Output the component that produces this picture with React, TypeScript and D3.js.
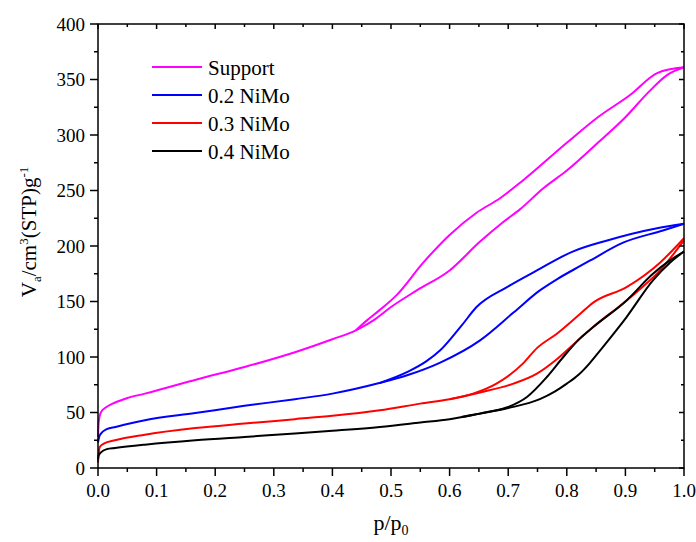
import React from "react";
import * as d3 from "d3";

type Pt = [number, number];

// adsorption / desorption branches, [p/p0, volume]
const supportAds: Pt[] = [
  [0, 28], [0.001, 40], [0.003, 47], [0.006, 51], [0.012, 54], [0.025, 58],
  [0.05, 63], [0.08, 67], [0.17, 80], [0.25, 91], [0.34, 105], [0.4, 116],
  [0.44, 124], [0.47, 133], [0.5, 145], [0.544, 160], [0.6, 178], [0.652, 204],
  [0.69, 221], [0.72, 233], [0.76, 252], [0.8, 268], [0.853, 293], [0.9, 316],
  [0.942, 340], [0.971, 354], [1.0, 361],
];
const supportDes: Pt[] = [
  [0.44, 124], [0.459, 133], [0.48, 142], [0.51, 156], [0.555, 185], [0.6, 210],
  [0.646, 230], [0.686, 243], [0.725, 259], [0.8, 293], [0.853, 316],
  [0.908, 336], [0.955, 356], [1.0, 361],
];

const niMo02Ads: Pt[] = [
  [0, 23], [0.002, 28], [0.005, 31], [0.015, 35], [0.03, 37], [0.08, 43],
  [0.166, 49.5], [0.25, 56], [0.336, 62], [0.4, 67], [0.48, 76.5], [0.53, 84],
  [0.584, 95], [0.652, 115], [0.709, 140], [0.754, 160], [0.783, 170],
  [0.823, 182], [0.84, 187], [0.896, 203], [0.964, 214], [1.0, 220],
];
const niMo02Des: Pt[] = [
  [0.48, 76.5], [0.53, 87], [0.56, 96], [0.584, 106], [0.62, 128], [0.646, 145],
  [0.698, 163], [0.749, 178], [0.81, 195], [0.869, 205], [0.954, 216], [1.0, 220],
];

const niMo03Ads: Pt[] = [
  [0, 5], [0.001, 12], [0.003, 19], [0.01, 22], [0.029, 25], [0.08, 30],
  [0.166, 36], [0.25, 40], [0.336, 44], [0.4, 47], [0.481, 52], [0.55, 58],
  [0.6, 62], [0.652, 68], [0.709, 76], [0.749, 85], [0.783, 98], [0.823, 117],
  [0.845, 127], [0.902, 151], [0.959, 178], [1.0, 205],
];
const niMo03Des: Pt[] = [
  [0.6, 62], [0.64, 67], [0.68, 76], [0.725, 94], [0.749, 108], [0.783, 121],
  [0.823, 139], [0.845, 149], [0.902, 163], [0.959, 185], [1.0, 207],
];

const niMo04Ads: Pt[] = [
  [0, 8], [0.001, 11], [0.005, 14], [0.015, 17], [0.029, 18], [0.08, 21],
  [0.166, 25], [0.25, 28], [0.336, 31], [0.4, 33.5], [0.481, 37], [0.55, 41],
  [0.6, 44], [0.652, 49], [0.7, 54], [0.754, 62], [0.78, 69], [0.8, 76],
  [0.82, 84], [0.84, 95], [0.857, 106], [0.902, 136], [0.947, 169],
  [0.976, 185], [1.0, 195],
];
const niMo04Des: Pt[] = [
  [0.62, 46], [0.66, 50], [0.7, 55], [0.732, 64], [0.766, 82], [0.794, 100],
  [0.823, 117], [0.845, 127], [0.902, 151], [0.947, 175], [0.976, 187], [1.0, 195],
];

const seriesNames = ["Support", "0.2 NiMo", "0.3 NiMo", "0.4 NiMo"];
const seriesColors = ["#ff00ff", "#0000ff", "#ff0000", "#000000"];
const seriesBranches: Pt[][][] = [
  [supportAds, supportDes],
  [niMo02Ads, niMo02Des],
  [niMo03Ads, niMo03Des],
  [niMo04Ads, niMo04Des],
];

const xTicks = [0, 0.1, 0.2, 0.3, 0.4, 0.5, 0.6, 0.7, 0.8, 0.9, 1.0];
const yTicks = [0, 50, 100, 150, 200, 250, 300, 350, 400];

const W = 696;
const H = 542;
const margin = { left: 98, right: 12, top: 24, bottom: 74 };
const font = "'Liberation Serif', 'Times New Roman', serif";

export default function App() {
  const x = d3.scaleLinear().domain([0, 1]).range([margin.left, W - margin.right]);
  const y = d3.scaleLinear().domain([0, 400]).range([H - margin.bottom, margin.top]);
  const line = d3
    .line<Pt>()
    .x((d) => x(d[0]))
    .y((d) => y(d[1]))
    .curve(d3.curveMonotoneX);

  const x0 = x(0), x1 = x(1), y0 = y(0), y1 = y(400);
  const xMinor = d3.range(0.05, 1, 0.1);
  const yMinor = d3.range(25, 400, 50);

  return (
    <svg
      width={W}
      height={H}
      style={{ position: "absolute", left: 0, top: 0, background: "#fff" }}
      fontFamily={font}
    >
      {/* curves */}
      {seriesBranches.map((branches, i) =>
        branches.map((b, j) => (
          <path
            key={`${i}-${j}`}
            d={line(b) ?? ""}
            fill="none"
            stroke={seriesColors[i]}
            strokeWidth={2}
            strokeLinejoin="round"
          />
        ))
      )}

      {/* frame */}
      <rect x={x0} y={y1} width={x1 - x0} height={y0 - y1} fill="none" stroke="#000" strokeWidth={1.5} />

      {/* x ticks */}
      {xTicks.map((t) => (
        <g key={`xt${t}`}>
          <line x1={x(t)} x2={x(t)} y1={y0} y2={y0 + 8} stroke="#000" strokeWidth={1.5} />
          <line x1={x(t)} x2={x(t)} y1={y1} y2={y1 + 5} stroke="#000" strokeWidth={1.5} />
          <text x={x(t)} y={y0 + 29} textAnchor="middle" fontSize={19}>
            {t.toFixed(1)}
          </text>
        </g>
      ))}
      {xMinor.map((t) => (
        <g key={`xm${t}`}>
          <line x1={x(t)} x2={x(t)} y1={y0} y2={y0 + 4} stroke="#000" strokeWidth={1.5} />
          <line x1={x(t)} x2={x(t)} y1={y1} y2={y1 + 3} stroke="#000" strokeWidth={1.5} />
        </g>
      ))}

      {/* y ticks */}
      {yTicks.map((t) => (
        <g key={`yt${t}`}>
          <line x1={x0 - 8} x2={x0} y1={y(t)} y2={y(t)} stroke="#000" strokeWidth={1.5} />
          <line x1={x1 - 5} x2={x1} y1={y(t)} y2={y(t)} stroke="#000" strokeWidth={1.5} />
          <text x={x0 - 13} y={y(t) + 6.5} textAnchor="end" fontSize={19}>
            {t}
          </text>
        </g>
      ))}
      {yMinor.map((t) => (
        <g key={`ym${t}`}>
          <line x1={x0 - 4} x2={x0} y1={y(t)} y2={y(t)} stroke="#000" strokeWidth={1.5} />
          <line x1={x1 - 3} x2={x1} y1={y(t)} y2={y(t)} stroke="#000" strokeWidth={1.5} />
        </g>
      ))}

      {/* axis titles */}
      <text x={(x0 + x1) / 2} y={530} textAnchor="middle" fontSize={22}>
        p/p<tspan fontSize={14} dy={5}>0</tspan>
      </text>
      <text transform="translate(36,232) rotate(-90)" textAnchor="middle" fontSize={21}>
        V<tspan fontSize={13} dy={5}>a</tspan>
        <tspan dy={-5}>/cm</tspan>
        <tspan fontSize={13} dy={-8}>3</tspan>
        <tspan dy={8}>(STP)g</tspan>
        <tspan fontSize={13} dy={-8}>-1</tspan>
      </text>

      {/* legend */}
      {seriesNames.map((name, i) => {
        const ly = 67 + i * 28;
        return (
          <g key={name}>
            <line x1={152} x2={202} y1={ly} y2={ly} stroke={seriesColors[i]} strokeWidth={2} />
            <text x={208} y={ly + 7.5} fontSize={21}>
              {name}
            </text>
          </g>
        );
      })}
    </svg>
  );
}
